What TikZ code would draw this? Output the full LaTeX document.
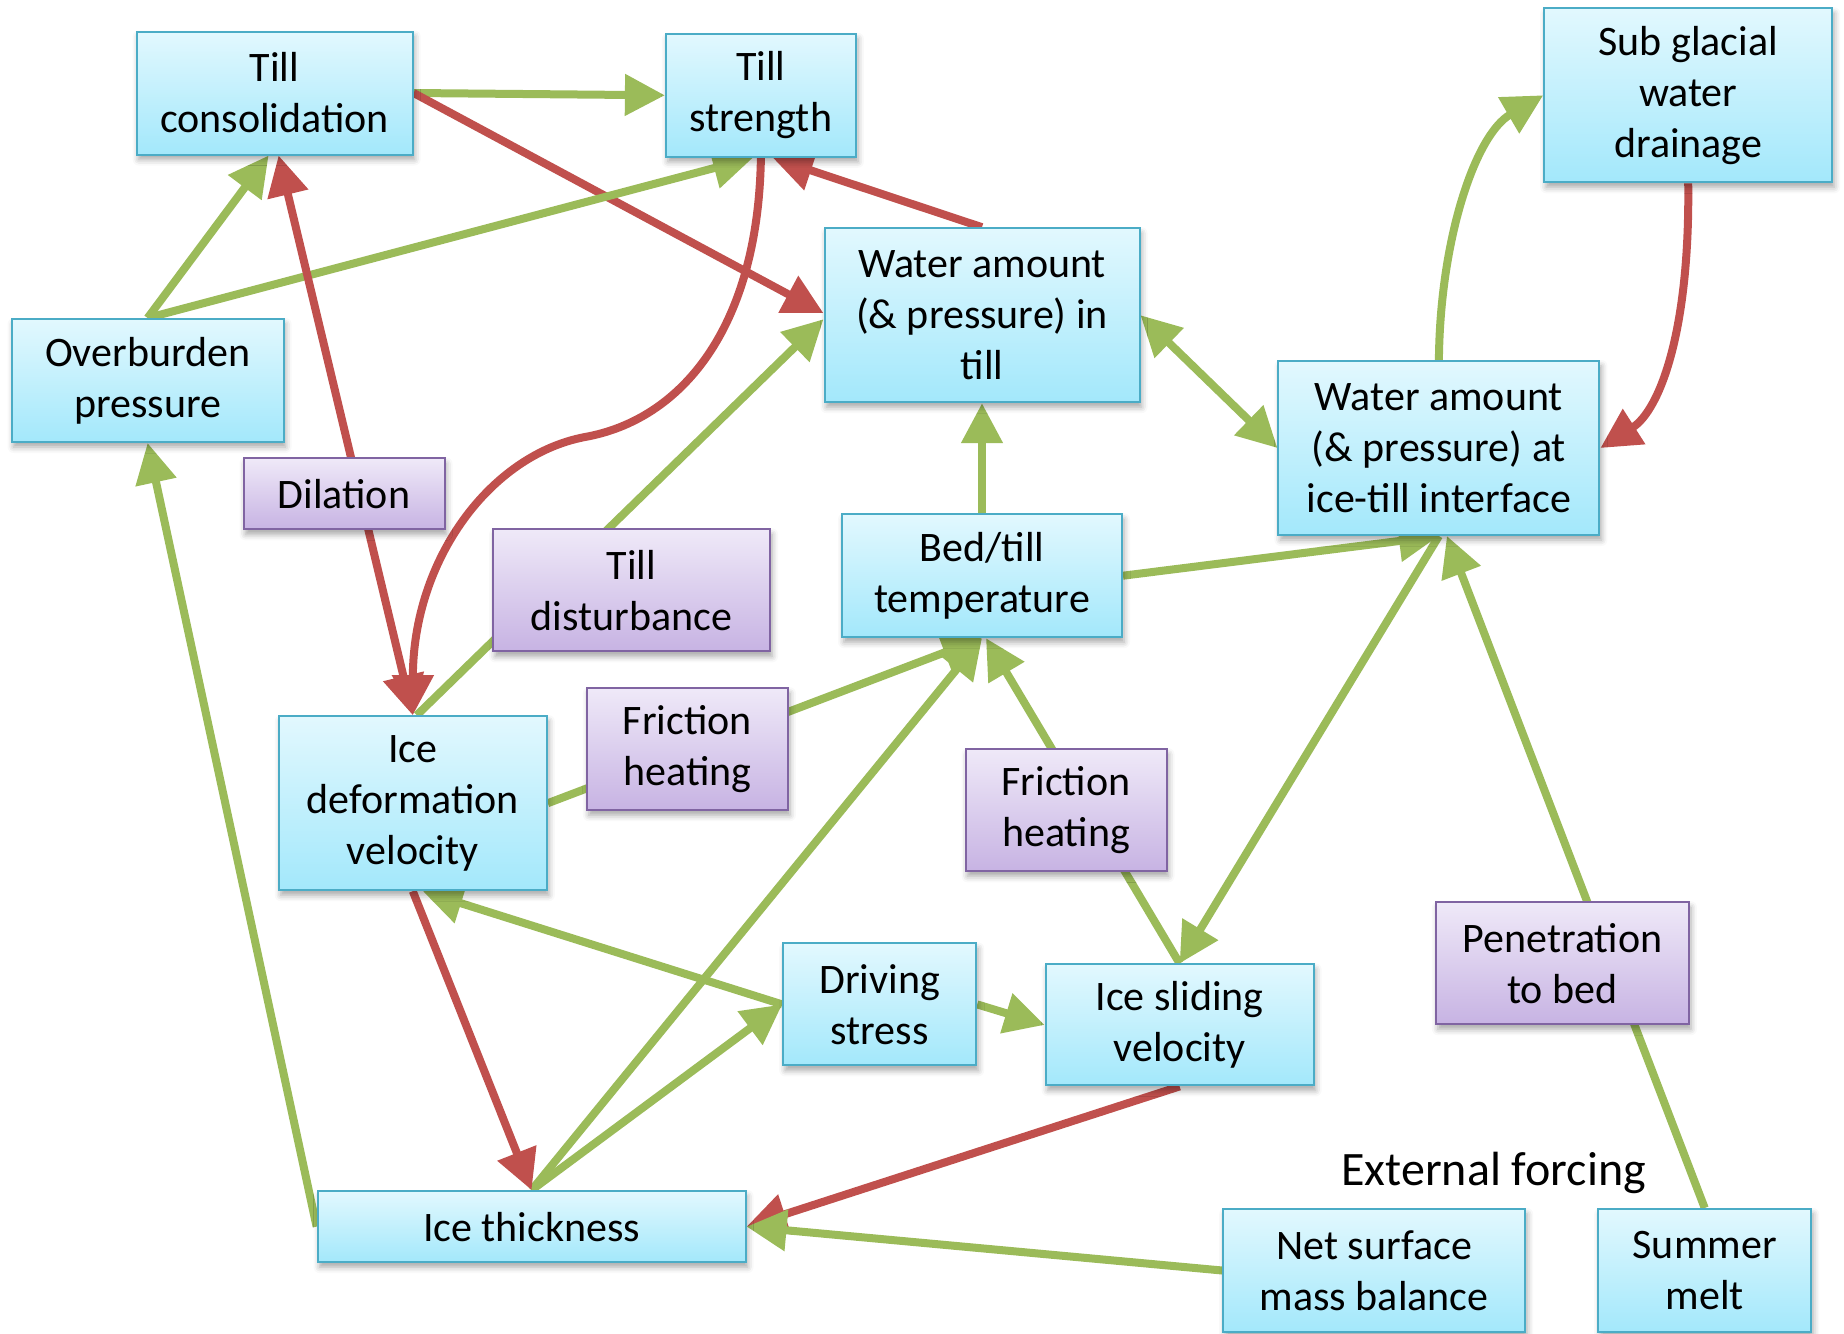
\documentclass[tikz,border=0pt]{standalone}
\usepackage{fontspec}
\setmainfont{Carlito}
\usetikzlibrary{arrows.meta,shadows.blur}
\definecolor{linkpos}{HTML}{9BBB59}
\definecolor{linkneg}{HTML}{C0504D}
\definecolor{qtyedge}{HTML}{4BACC6}
\definecolor{qtytop}{HTML}{E2F8FE}
\definecolor{qtybot}{HTML}{A3E8FB}
\definecolor{procedge}{HTML}{8064A2}
\definecolor{proctop}{HTML}{EFE9F8}
\definecolor{procbot}{HTML}{C7B3E3}
\pgfdeclarelayer{links}
\pgfsetlayers{links,main}

\begin{document}
\begin{tikzpicture}[x=1pt,y=-1pt,
  every node/.style={font=\fontsize{42pt}{51pt}\selectfont, align=center, inner sep=0pt},
  qty/.style={draw=qtyedge, line width=2pt, top color=qtytop, bottom color=qtybot,
    blur shadow={shadow xshift=2pt, shadow yshift=-5pt, shadow blur radius=6pt, shadow opacity=35}},
  proc/.style={qty, draw=procedge, top color=proctop, bottom color=procbot},
  poslink/.style={draw=linkpos, line width=8pt, -{Triangle[length=40pt,width=40pt]}},
  neglink/.style={draw=linkneg, line width=8pt, -{Triangle[length=40pt,width=40pt]}},
]
\useasboundingbox (0,0) rectangle (1844,1333);

% quantities
\node[qty, minimum width=276, minimum height=123] (tc)  at (274.6,93)    {Till\\consolidation};
\node[qty, minimum width=190, minimum height=123] (ts)  at (760.9,95.3)  {Till\\strength};
\node[qty, minimum width=288, minimum height=174] (sg)  at (1688.2,95.3) {Sub glacial\\water\\drainage};
\node[qty, minimum width=272, minimum height=123] (ob)  at (147.6,380.5) {Overburden\\pressure};
\node[qty, minimum width=315, minimum height=174] (wt)  at (982,315.2)   {Water amount\\(\& pressure) in\\till};
\node[qty, minimum width=321, minimum height=174] (wi)  at (1438.9,448)  {Water amount\\(\& pressure) at\\ice-till interface};
\node[qty, minimum width=280, minimum height=123] (bt)  at (982,575.7)   {Bed/till\\temperature};
\node[qty, minimum width=268, minimum height=174] (idv) at (412.8,803.2) {Ice\\deformation\\velocity};
\node[qty, minimum width=193, minimum height=122] (ds)  at (879.7,1004.4) {Driving\\stress};
\node[qty, minimum width=268, minimum height=121] (isv) at (1179.6,1024.9) {Ice sliding\\velocity};
\node[qty, minimum width=428, minimum height=71]  (it)  at (531.6,1226.6) {Ice thickness};
\node[qty, minimum width=302, minimum height=123] (nsb) at (1374.2,1270.5) {Net surface\\mass balance};
\node[qty, minimum width=213, minimum height=123] (sm)  at (1704.7,1270.5) {Summer\\melt};

% processes
\node[proc, minimum width=201, minimum height=71]  (dil) at (344,493.9)    {Dilation};
\node[proc, minimum width=277, minimum height=122] (td)  at (631.6,590.4)  {Till\\disturbance};
\node[proc, minimum width=201, minimum height=122] (fl)  at (687.4,749.2)  {Friction\\heating};
\node[proc, minimum width=201, minimum height=122] (fr)  at (1066,810.3)   {Friction\\heating};
\node[proc, minimum width=253, minimum height=122] (pb)  at (1562.4,963.2) {Penetration\\to bed};

\node[font=\fontsize{48pt}{57pt}\selectfont] (ext) at (1493.6,1172.5) {External forcing};

\begin{pgfonlayer}{links}
\draw[poslink] (tc.east) -- (ts.west);
\draw[neglink] (tc.east) -- ([yshift=2pt]wt.west);
\draw[poslink] (ob.north) -- ([xshift=-6pt]tc.south);
\draw[poslink] (ob.north) -- ([xshift=-8pt]ts.south);
\draw[neglink, {Triangle[length=40pt,width=40pt]}-{Triangle[length=40pt,width=40pt]}]
  ([xshift=4pt]tc.south) -- (idv.north);
\draw[neglink] (ts.south) .. controls (758,330) and (680,420) .. (585,437)
  .. controls (490,455) and (413,560) .. (idv.north);
\draw[neglink] (wt.north) -- ([xshift=12pt]ts.south);
\draw[poslink] ([xshift=4pt]idv.north) -- ([yshift=-4pt]wt.west);
\draw[poslink] (idv.east) -- (bt.south);
\draw[poslink] (bt.north) -- (wt.south);
\draw[poslink, {Triangle[length=40pt,width=40pt]}-{Triangle[length=40pt,width=40pt]}]
  (wt.east) -- (wi.west);
\draw[poslink] (bt.east) -- (wi.south);
\draw[poslink] (wi.north) .. controls (1440,240) and (1475,135) .. (sg.west);
\draw[neglink] (sg.south) .. controls (1690,330) and (1660,410) .. (wi.east);
\draw[poslink] (wi.south) -- (isv.north);
\draw[poslink] (sm.north) -- ([xshift=8pt]wi.south);
\draw[poslink] (isv.north) -- ([xshift=4pt]bt.south);
\draw[poslink] (ds.east) -- (isv.west);
\draw[poslink] (ds.west) -- ([xshift=10pt]idv.south);
\draw[poslink] (it.north) -- (ds.west);
\draw[poslink] (it.north) -- (bt.south);
\draw[neglink] (idv.south) -- (it.north);
\draw[neglink] (isv.south) -- (it.east);
\draw[poslink] (nsb.west) -- (it.east);
\draw[poslink] (it.west) -- (ob.south);
\end{pgfonlayer}
\end{tikzpicture}
\end{document}
